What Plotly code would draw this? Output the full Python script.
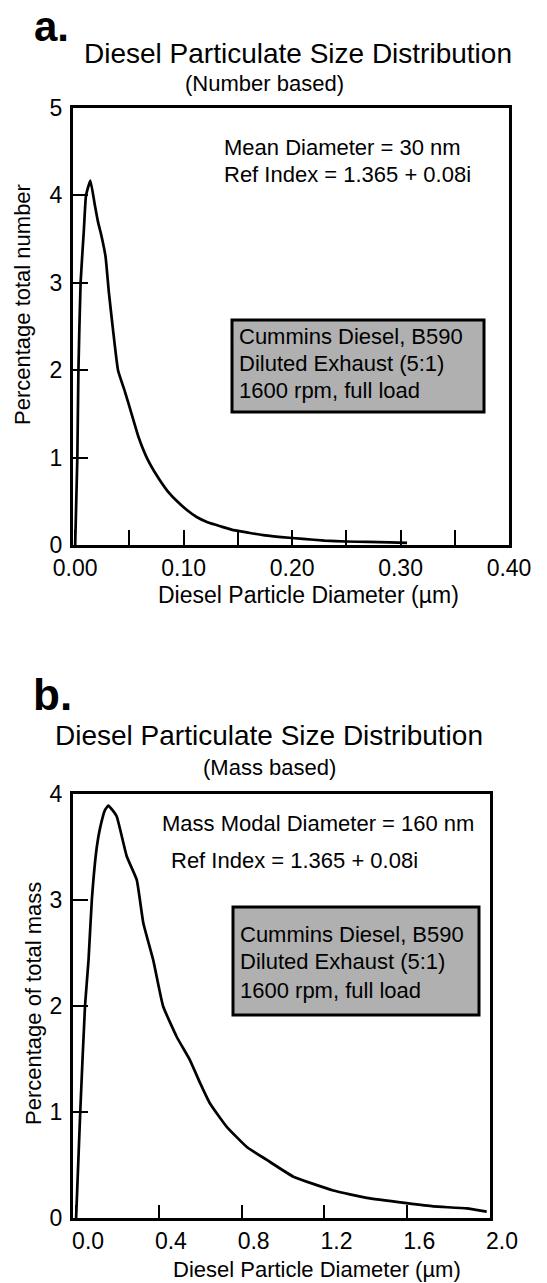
import plotly.graph_objects as go

# ---- data ----
num_diam_um = [0.000, 0.002, 0.003, 0.005, 0.008, 0.010, 0.014, 0.018, 0.021, 0.024, 0.028,
               0.031, 0.035, 0.0395, 0.046, 0.052, 0.058, 0.066, 0.075, 0.085, 0.094, 0.103,
               0.112, 0.122, 0.135, 0.146, 0.160, 0.175, 0.190, 0.210, 0.230, 0.250, 0.270,
               0.290, 0.306]
num_pct = [0.00, 1.00, 2.00, 3.00, 3.60, 4.00, 4.17, 3.90, 3.70, 3.55, 3.30,
           2.90, 2.45, 2.00, 1.75, 1.50, 1.25, 1.00, 0.80, 0.62, 0.50, 0.40,
           0.32, 0.26, 0.21, 0.17, 0.14, 0.11, 0.09, 0.07, 0.05, 0.04, 0.035,
           0.03, 0.025]

mass_diam_um = [0.000, 0.020, 0.043, 0.060, 0.076, 0.100, 0.116, 0.140, 0.156, 0.175, 0.196,
                0.245, 0.293, 0.325, 0.373, 0.420, 0.486, 0.550, 0.600, 0.647, 0.728, 0.825,
                0.920, 1.050, 1.243, 1.404, 1.597, 1.726, 1.887, 1.984]
mass_pct = [0.00, 1.00, 2.00, 2.43, 3.00, 3.50, 3.68, 3.85, 3.89, 3.85, 3.79,
            3.41, 3.19, 2.78, 2.43, 2.00, 1.71, 1.49, 1.27, 1.08, 0.86, 0.67,
            0.55, 0.39, 0.26, 0.19, 0.14, 0.11, 0.09, 0.06]

a_xticks = [0.0, 0.1, 0.2, 0.3, 0.4]
a_xlabels = ["0.00", "0.10", "0.20", "0.30", "0.40"]
a_yticks = [0, 1, 2, 3, 4, 5]
b_xticks = [0.0, 0.4, 0.8, 1.2, 1.6, 2.0]
b_xlabels = ["0.0", "0.4", "0.8", "1.2", "1.6", "2.0"]
b_yticks = [0, 1, 2, 3, 4]

W, H = 547, 1283
FONT = "Liberation Sans, Arial, sans-serif"


def px(xp):
    return xp / W


def py(yp):
    return 1 - yp / H


fig = go.Figure()
fig.add_trace(go.Scatter(x=num_diam_um, y=num_pct, mode="lines",
                         line=dict(color="black", width=2.7, shape="spline", smoothing=0.4),
                         xaxis="x", yaxis="y", showlegend=False))
fig.add_trace(go.Scatter(x=mass_diam_um, y=mass_pct, mode="lines",
                         line=dict(color="black", width=2.7, shape="spline", smoothing=0.4),
                         xaxis="x2", yaxis="y2", showlegend=False))

axis_common = dict(showline=True, linecolor="black", linewidth=3, mirror=True,
                   showgrid=False, zeroline=False, ticks="inside", tickcolor="black",
                   tickwidth=2, automargin=False,
                   tickfont=dict(family=FONT, size=23, color="black"))

fig.update_layout(
    template="none",
    width=W, height=H, autosize=False,
    margin=dict(l=0, r=0, t=0, b=0, pad=0),
    paper_bgcolor="white", plot_bgcolor="white",
    xaxis=dict(domain=[px(73), px(509)], range=[-0.002, 0.40], anchor="y",
               tickvals=a_xticks, ticktext=a_xlabels, ticklen=15,
               minor=dict(ticks="inside", dtick=0.05, ticklen=15, tickcolor="black", tickwidth=2),
               **axis_common),
    yaxis=dict(domain=[py(545), py(108)], range=[0, 5], anchor="x",
               tickvals=a_yticks, ticklen=15, ticklabelstandoff=3, **axis_common),
    xaxis2=dict(domain=[px(73), px(490)], range=[-0.015, 2.0], anchor="y2",
                tickvals=b_xticks, ticktext=b_xlabels, ticklen=13, ticklabelshift=12,
                **axis_common),
    yaxis2=dict(domain=[py(1218), py(794)], range=[0, 4], anchor="x2",
                tickvals=b_yticks, ticklen=15, ticklabelstandoff=3, **axis_common),
)

ann = []


def text(x, y, s, size, anchor="center", bold=False, angle=0):
    ann.append(dict(x=px(x), y=py(y), xref="paper", yref="paper", text=s,
                    showarrow=False, xanchor=anchor, yanchor="middle", textangle=angle,
                    font=dict(family=FONT, size=size, color="black",
                              weight="bold" if bold else "normal")))


# panel a
text(32, 26, "a.", 42, anchor="left", bold=True)
text(298, 54, "Diesel Particulate Size Distribution", 28)
text(264, 83, "(Number based)", 22)
text(222, 147, "Mean Diameter = 30 nm", 22, anchor="left")
text(222, 175, "Ref Index = 1.365 + 0.08i", 22, anchor="left")
text(308, 595, "Diesel Particle Diameter (µm)", 23)
text(22, 305, "Percentage total number", 22, angle=-90)

# panel b
text(31, 694, "b.", 44, anchor="left", bold=True)
text(269, 735, "Diesel Particulate Size Distribution", 28)
text(269, 767, "(Mass based)", 22)
text(160, 823, "Mass Modal Diameter = 160 nm", 22, anchor="left")
text(169, 860, "Ref Index = 1.365 + 0.08i", 22, anchor="left")
text(317, 1269, "Diesel Particle Diameter (µm)", 22)
text(33, 1004, "Percentage of total mass", 22, angle=-90)

# gray info boxes
shapes = []
for (x0, y0, x1, y1, lines) in [
    (232, 320, 484, 412, [337, 364, 391]),
    (233, 907, 479, 1015, [934, 962, 990]),
]:
    shapes.append(dict(type="rect", xref="paper", yref="paper",
                       x0=px(x0), x1=px(x1), y0=py(y1), y1=py(y0),
                       fillcolor="#b0b0b0", line=dict(color="black", width=3), layer="above"))
    labels = ["Cummins Diesel, B590", "Diluted Exhaust (5:1)", "1600 rpm, full load"]
    for yy, s in zip(lines, labels):
        text(x0 + 5, yy, s, 22, anchor="left")

fig.update_layout(annotations=ann, shapes=shapes)
fig.write_html("out.html", config={"displayModeBar": False},
               post_script="document.body.style.margin='0';document.body.style.overflow='hidden';")
